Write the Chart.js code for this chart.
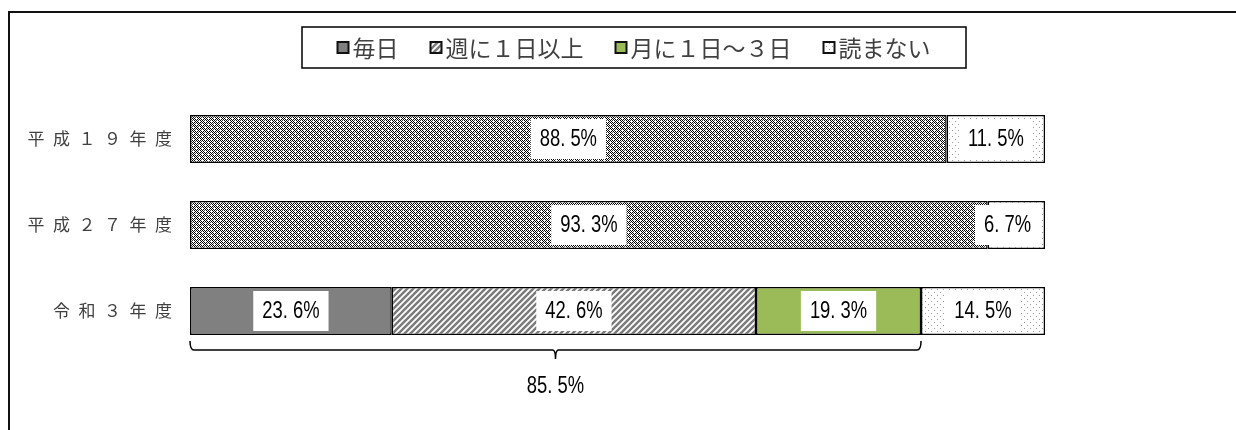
<!DOCTYPE html>
<html>
<head>
<meta charset="utf-8">
<script src="https://cdn.jsdelivr.net/npm/chart.js@4"></script>
<style>
  html, body { margin: 0; padding: 0; background: #fff; }
  #wrap { width: 1236px; height: 430px; }
</style>
</head>
<body>
<div id="wrap"><canvas id="chart" width="1236" height="430"></canvas></div>
<script>
// Data
const categories = ['平\u2002成\u2002１\u2002９\u2002年\u2002度', '平\u2002成\u2002２\u2002７\u2002年\u2002度', '令\u2002和\u2002３\u2002年\u2002度'];
const everyDay = [null, null, 23.6];
const weekly = [null, null, 42.6];
const monthly = [null, null, 19.3];
const reading = [88.5, 93.3, null];   // 読む (no breakdown in the older surveys)
const notReading = [11.5, 6.7, 14.5];
const legendLabels = ['毎日', '週に１日以上', '月に１日～３日', '読まない'];

const numFont = '"Liberation Sans", Arial, sans-serif';
const jpFont = '"Noto Sans CJK JP", sans-serif';

function makePattern(size, paint) {
    const c = document.createElement('canvas');
    c.width = size; c.height = size;
    const g = c.getContext('2d');
    g.fillStyle = '#fff';
    g.fillRect(0, 0, size, size);
    paint(g);
    return document.createElement('canvas').getContext('2d').createPattern(c, 'repeat');
}

const hatch = makePattern(6, g => {
    g.strokeStyle = '#7a7a7a';
    g.lineWidth = 2.4;
    [[0, 6, 6, 0], [-3, 3, 3, -3], [3, 9, 9, 3]].forEach(([a, b, c, d]) => {
        g.beginPath(); g.moveTo(a, b); g.lineTo(c, d); g.stroke();
    });
});

const checker = makePattern(6, g => {
    for (let y = 0; y < 6; y++) {
        for (let x = 0; x < 6; x++) {
            if ((x + y) % 2 === 0 && !(x % 3 === 1 && y % 3 === 1)) {
                g.fillStyle = (x % 3 === 0 && y % 3 === 0) ? '#444' : '#000';
                g.fillRect(x, y, 1, 1);
            }
        }
    }
});

const dots = makePattern(6, g => {
    g.fillStyle = '#999';
    g.fillRect(1, 1, 1, 1);
    g.fillRect(4, 4, 1, 1);
});

function fmt(v) {
    const s = v.toFixed(1).split('.');
    return s[0] + '. ' + s[1] + '%';
}

// narrow numerals, like the condensed gothic of the original
function narrowText(ctx, txt, x, y) {
    ctx.save();
    ctx.translate(x, y);
    ctx.scale(0.8, 1);
    ctx.fillText(txt, 0, 0);
    ctx.restore();
}

const frame = {
    id: 'frame',
    beforeDraw(chart) {
        const ctx = chart.ctx;
        ctx.save();
        ctx.fillStyle = '#111';
        ctx.fillRect(8, 11, chart.width, 2);
        ctx.fillRect(8, 11, 2, chart.height);
        ctx.restore();
    }
};

const valueLabels = {
    id: 'valueLabels',
    afterDatasetsDraw(chart) {
        const ctx = chart.ctx;
        const right = chart.chartArea.right;
        ctx.save();
        ctx.font = '23px ' + numFont;
        ctx.textAlign = 'center';
        ctx.textBaseline = 'middle';
        chart.data.datasets.forEach((ds, i) => {
            chart.getDatasetMeta(i).data.forEach((el, j) => {
                const v = ds.data[j];
                if (v == null) return;
                const txt = fmt(v);
                const w = ctx.measureText(txt).width * 0.8 + 18;
                let cx = (el.x + el.base) / 2;
                cx = Math.min(cx, right - 5 - w / 2);
                ctx.fillStyle = '#fff';
                ctx.fillRect(cx - w / 2, el.y - 20, w, 40);
                ctx.fillStyle = '#000';
                narrowText(ctx, txt, cx, el.y + 1);
            });
        });
        ctx.restore();
    }
};

const bracket = {
    id: 'bracket',
    afterDraw(chart) {
        const ctx = chart.ctx;
        const x = chart.scales.x;
        const row = 2;
        const total = everyDay[row] + weekly[row] + monthly[row];
        const el = chart.getDatasetMeta(0).data[row];
        const bottom = el.y + el.height / 2;
        const x0 = x.getPixelForValue(0);
        const x1 = x.getPixelForValue(total);
        const xm = (x0 + x1) / 2;
        const y = bottom + 15;
        ctx.save();
        ctx.strokeStyle = '#000';
        ctx.lineWidth = 1.5;
        ctx.beginPath();
        ctx.moveTo(x0, bottom + 6);
        ctx.quadraticCurveTo(x0, y, x0 + 4, y);
        ctx.lineTo(xm - 3, y);
        ctx.quadraticCurveTo(xm, y, xm, y + 9);
        ctx.quadraticCurveTo(xm, y, xm + 3, y);
        ctx.lineTo(x1 - 4, y);
        ctx.quadraticCurveTo(x1, y, x1, bottom + 6);
        ctx.stroke();
        ctx.font = '23px ' + numFont;
        ctx.fillStyle = '#000';
        ctx.textAlign = 'center';
        ctx.textBaseline = 'middle';
        narrowText(ctx, fmt(total), xm, y + 37);
        ctx.restore();
    }
};

const boxLegend = {
    id: 'boxLegend',
    afterDraw(chart) {
        const ctx = chart.ctx;
        const items = chart.data.datasets.filter(d => legendLabels.includes(d.label));
        ctx.save();
        ctx.font = '23px ' + jpFont;
        const mk = 11, gap = 4, space = 32;
        const widths = items.map(d => mk + gap + ctx.measureText(d.label).width);
        const total = widths.reduce((a, b) => a + b, 0) + space * (items.length - 1);
        const boxL = 302, boxT = 27, boxW = 664, boxH = 41;
        ctx.strokeStyle = '#000';
        ctx.lineWidth = 1.5;
        ctx.strokeRect(boxL, boxT, boxW, boxH);
        let px = boxL + (boxW - total) / 2;
        const cy = boxT + boxH / 2;
        ctx.textBaseline = 'middle';
        items.forEach((d, i) => {
            ctx.fillStyle = d.backgroundColor;
            ctx.fillRect(px, cy - mk / 2, mk, mk);
            ctx.strokeStyle = '#111';
            ctx.lineWidth = 2;
            ctx.strokeRect(px, cy - mk / 2, mk, mk);
            ctx.fillStyle = '#404040';
            ctx.fillText(d.label, px + mk + gap, cy + 1);
            px += widths[i] + space;
        });
        ctx.restore();
    }
};

const border = { borderColor: '#000', borderWidth: 1.5, borderSkipped: false };

new Chart(document.getElementById('chart'), {
    type: 'bar',
    data: {
        labels: categories,
        datasets: [
            { label: legendLabels[0], data: everyDay, backgroundColor: '#808080', ...border },
            { label: legendLabels[1], data: weekly, backgroundColor: hatch, ...border },
            { label: legendLabels[2], data: monthly, backgroundColor: '#9bbb59', ...border },
            { label: '読む', data: reading, backgroundColor: checker, ...border },
            { label: legendLabels[3], data: notReading, backgroundColor: dots, ...border }
        ]
    },
    options: {
        indexAxis: 'y',
        responsive: false,
        animation: false,
        events: [],
        layout: { padding: { top: 96, right: 191, bottom: 76, left: 0 } },
        datasets: { bar: { categoryPercentage: 1, barPercentage: 0.56 } },
        plugins: { legend: { display: false }, tooltip: { enabled: false } },
        scales: {
            x: { stacked: true, min: 0, max: 100, display: false },
            y: {
                stacked: true,
                grid: { display: false, drawTicks: false },
                border: { display: false },
                ticks: { color: '#404040', padding: 18, font: { family: jpFont, size: 17 } },
                afterFit(scale) { scale.width = 190; }
            }
        }
    },
    plugins: [frame, valueLabels, bracket, boxLegend]
});
</script>
</body>
</html>
